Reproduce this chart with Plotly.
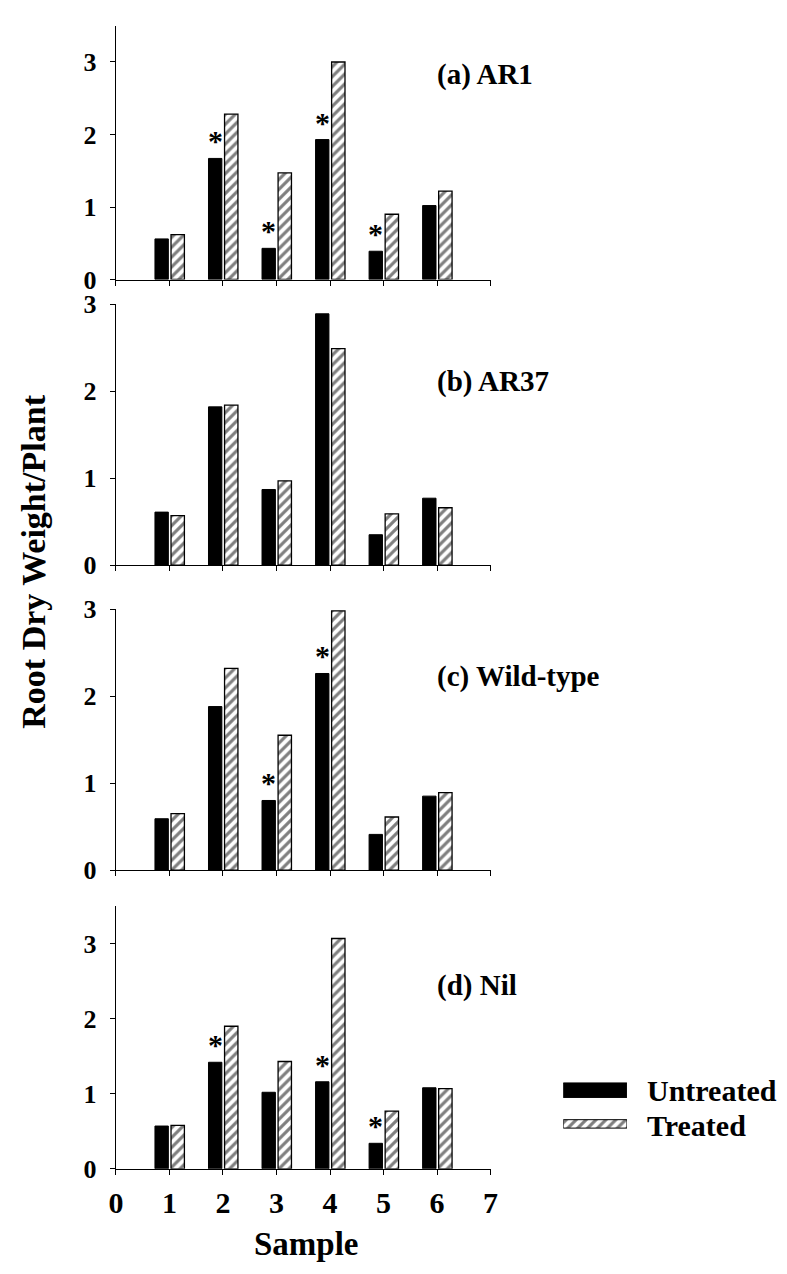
import plotly.graph_objects as go

W, H = 787, 1274

samples = [1, 2, 3, 4, 5, 6]
x_ticks = [0, 1, 2, 3, 4, 5, 6, 7]
y_ticks = [0, 1, 2, 3]

panel_titles = ["(a) AR1", "(b) AR37", "(c) Wild-type", "(d) Nil"]

untreated_a = [0.56, 1.67, 0.43, 1.93, 0.39, 1.02]
treated_a = [0.62, 2.28, 1.47, 3.00, 0.90, 1.22]
sig_a = [2, 3, 4, 5]

untreated_b = [0.61, 1.82, 0.87, 2.89, 0.35, 0.77]
treated_b = [0.57, 1.84, 0.97, 2.49, 0.59, 0.66]
sig_b = []

untreated_c = [0.59, 1.88, 0.80, 2.26, 0.41, 0.85]
treated_c = [0.65, 2.32, 1.55, 2.98, 0.61, 0.89]
sig_c = [3, 4]

untreated_d = [0.57, 1.42, 1.02, 1.16, 0.34, 1.08]
treated_d = [0.58, 1.90, 1.43, 3.07, 0.77, 1.07]
sig_d = [2, 4, 5]

y_max = [3.5, 3.0, 3.0, 3.5]

legend_names = ["Untreated", "Treated"]

FONT = "Liberation Serif, Times New Roman, serif"

panels = [
    (untreated_a, treated_a, sig_a),
    (untreated_b, treated_b, sig_b),
    (untreated_c, treated_c, sig_c),
    (untreated_d, treated_d, sig_d),
]

# pixel layout (top, bottom) of each plot area
px_y = [(12, 271.7), (297, 564), (609, 876), (913, 1181.7)]
px_x = (111, 493)
label_y = [62, 376, 678, 994]

BAR_W = 0.25
OFF_U = -0.27
OFF_T = 0.03

fig = go.Figure()
annotations = []
layout = {}

hatch = dict(shape="/", fgcolor="black", bgcolor="white", size=7, solidity=0.45)

for i, (u, t, sig) in enumerate(panels):
    n = "" if i == 0 else str(i + 1)
    xa, ya = "x" + n, "y" + n
    fig.add_trace(go.Bar(
        x=samples, y=u, width=BAR_W, offset=OFF_U,
        marker=dict(color="black", line=dict(color="black", width=1)),
        xaxis=xa, yaxis=ya, showlegend=False, name=legend_names[0],
    ))
    fig.add_trace(go.Bar(
        x=samples, y=t, width=BAR_W, offset=OFF_T,
        marker=dict(color="white", line=dict(color="black", width=1.3), pattern=hatch),
        xaxis=xa, yaxis=ya, showlegend=False, name=legend_names[1],
    ))
    for s in sig:
        annotations.append(dict(
            x=s + OFF_U + BAR_W / 2, y=u[samples.index(s)], xref=xa, yref=ya,
            text="*", showarrow=False, yanchor="bottom", xanchor="center",
            yshift=-1, font=dict(family=FONT, size=30, color="black", weight="bold"),
        ))
    top, bot = px_y[i]
    layout["xaxis" + n] = dict(
        domain=[px_x[0] / W, px_x[1] / W], range=[0, 7], anchor=ya,
        tickmode="array", tickvals=x_ticks, showticklabels=(i == 3),
        ticks="outside", ticklen=5, tickwidth=1, tickcolor="black",
        ticklabelstandoff=2,
        showline=True, linecolor="black", linewidth=1.3,
        showgrid=False, zeroline=False,
        tickfont=dict(family=FONT, size=30, color="black", weight="bold"),
    )
    layout["yaxis" + n] = dict(
        domain=[1 - bot / H, 1 - top / H], range=[0, y_max[i]], anchor=xa,
        tickmode="array", tickvals=y_ticks,
        ticks="outside", ticklen=5, tickwidth=1, tickcolor="black",
        ticklabelstandoff=8,
        showline=True, linecolor="black", linewidth=1.3,
        showgrid=False, zeroline=False,
        tickfont=dict(family=FONT, size=26, color="black", weight="bold"),
    )
    annotations.append(dict(
        x=436 / W, y=1 - label_y[i] / H, xref="paper", yref="paper",
        text=panel_titles[i], showarrow=False, xanchor="left", yanchor="middle",
        font=dict(family=FONT, size=29, color="black", weight="bold"),
    ))

# legend swatches drawn on a small auxiliary axis
fig.add_trace(go.Bar(
    y=[legend_names[0]], x=[1], orientation="h", width=0.43,
    marker=dict(color="black", line=dict(color="black", width=1)),
    xaxis="x5", yaxis="y5", showlegend=False, hoverinfo="skip",
))
fig.add_trace(go.Bar(
    y=[legend_names[1]], x=[1], orientation="h", width=0.25,
    marker=dict(color="white", line=dict(color="black", width=1), pattern=hatch),
    xaxis="x5", yaxis="y5", showlegend=False, hoverinfo="skip",
))
layout["xaxis5"] = dict(domain=[567 / W, 632 / W], range=[0, 1], anchor="y5",
                        visible=False, fixedrange=True)
layout["yaxis5"] = dict(domain=[1 - 1153 / H, 1 - 1084 / H], anchor="x5",
                        range=[-0.5, 1.5], visible=False,
                        categoryorder="array", categoryarray=[legend_names[1], legend_names[0]])

for name, yc in zip(legend_names, [1102, 1137]):
    annotations.append(dict(
        x=650 / W, y=1 - yc / H, xref="paper", yref="paper", text=name,
        showarrow=False, xanchor="left", yanchor="middle",
        font=dict(family=FONT, size=30, color="black", weight="bold"),
    ))

annotations.append(dict(
    x=27 / W, y=1 - 560 / H, xref="paper", yref="paper", text="Root Dry Weight/Plant",
    textangle=-90, showarrow=False, xanchor="center", yanchor="middle",
    font=dict(family=FONT, size=34, color="black", weight="bold"),
))
annotations.append(dict(
    x=305 / W, y=1 - 1259 / H, xref="paper", yref="paper", text="Sample",
    showarrow=False, xanchor="center", yanchor="middle",
    font=dict(family=FONT, size=33, color="black", weight="bold"),
))

fig.update_layout(
    width=W, height=H, margin=dict(l=0, r=0, t=0, b=0),
    paper_bgcolor="white", plot_bgcolor="white",
    font=dict(family=FONT, color="black"),
    barmode="overlay", showlegend=False,
    annotations=annotations, **layout,
)

fig.write_html("out.html")
